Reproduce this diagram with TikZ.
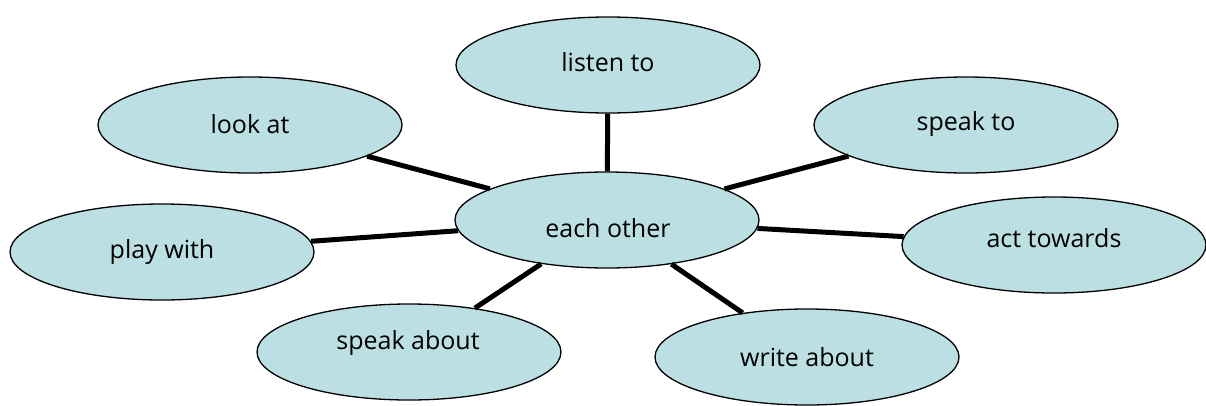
\documentclass[tikz,border=0pt]{standalone}
\usepackage{fontspec}
\setmainfont{Open Sans}
\usetikzlibrary{shapes.geometric}
\definecolor{bubble}{HTML}{BBDFE3}
\begin{document}
\begin{tikzpicture}[x=1pt,y=-1pt,
  bubble/.style={ellipse,draw=black,line width=1.3pt,fill=bubble,
    minimum width=304pt,minimum height=96pt,inner sep=0pt},
  lbl/.style={font=\fontsize{25}{28}\selectfont},
  spoke/.style={line width=5pt}]
\useasboundingbox (0,0) rectangle (1206,405);
%centre
\node[bubble] (centre) at (607,220) {};
\node[lbl] (centrelbl) at (608,228) {each other};
%outer bubbles
\node[bubble] (listen) at (608,65) {};
\node[bubble] (look) at (250,125) {};
\node[bubble] (speakto) at (966,125) {};
\node[bubble] (play) at (162,252) {};
\node[bubble] (act) at (1054,245) {};
\node[bubble] (speakabout) at (409,352) {};
\node[bubble] (write) at (807,357) {};
%labels
\node[lbl] (listenlbl) at (608,62) {listen to};
\node[lbl] (looklbl) at (250,124) {look at};
\node[lbl] (speaktolbl) at (966,124) {speak to};
\node[lbl] (playlbl) at (162,252) {play with};
\node[lbl] (actlbl) at (1054,238) {act towards};
\node[lbl] (speakaboutlbl) at (408,343) {speak about};
\node[lbl] (writelbl) at (807,357) {write about};
%spokes
\foreach \leaf in {listen,look,speakto,play,act,speakabout,write}
{
  \draw[spoke] (centre) -- (\leaf);
}
\end{tikzpicture}
\end{document}
